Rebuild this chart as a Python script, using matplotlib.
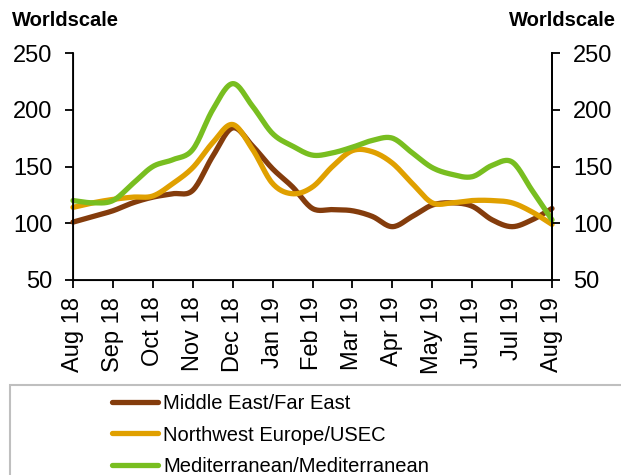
import matplotlib
matplotlib.use("Agg")
import matplotlib.pyplot as plt
import numpy as np
from matplotlib.patches import Rectangle

plt.rcParams['font.family'] = ['Liberation Sans', 'DejaVu Sans']

months = ["Aug 18", "Sep 18", "Oct 18", "Nov 18", "Dec 18", "Jan 19", "Feb 19",
          "Mar 19", "Apr 19", "May 19", "Jun 19", "Jul 19", "Aug 19"]

# values read every half month, Aug 18 .. Aug 19
me_fe = [101, 106, 111, 118, 123, 126, 129, 159, 184, 168, 148, 132, 113,
         112, 111, 106, 97, 106, 116, 118, 115, 103, 97, 103, 113]
nwe_usec = [114, 118, 121, 123, 124, 135, 149, 171, 187, 165, 135, 126, 132,
            150, 164, 163, 153, 135, 118, 118, 120, 120, 118, 110, 99]
med_med = [120, 118, 120, 135, 150, 156, 165, 200, 223, 203, 179, 168, 160,
           162, 167, 173, 175, 162, 149, 143, 141, 151, 154, 129, 103]

colors = ["#843C0C", "#E0A000", "#78BE20"]
names = ["Middle East/Far East", "Northwest Europe/USEC", "Mediterranean/Mediterranean"]


def smooth(x, y, n=16):
    # catmull-rom, roughly what excel does for smoothed lines
    x = np.asarray(x, float)
    y = np.asarray(y, float)
    px = np.concatenate([[2 * x[0] - x[1]], x, [2 * x[-1] - x[-2]]])
    py = np.concatenate([[2 * y[0] - y[1]], y, [2 * y[-1] - y[-2]]])
    t = np.linspace(0, 1, n, endpoint=False)
    xs, ys = [], []
    for i in range(1, len(px) - 2):
        for p, out in ((px, xs), (py, ys)):
            p0, p1, p2, p3 = p[i - 1], p[i], p[i + 1], p[i + 2]
            out.extend(0.5 * (2 * p1 + (-p0 + p2) * t + (2 * p0 - 5 * p1 + 4 * p2 - p3) * t ** 2
                              + (-p0 + 3 * p1 - 3 * p2 + p3) * t ** 3))
    xs.append(x[-1])
    ys.append(y[-1])
    return np.array(xs), np.array(ys)


x = np.arange(len(me_fe)) / 2.0

fig = plt.figure(figsize=(6.21, 4.75), dpi=100)
ax = fig.add_axes([73 / 621, 1 - 280 / 475, (552 - 73) / 621, (280 - 53) / 475])

lines = []
for vals, c, name in zip([me_fe, nwe_usec, med_med], colors, names):
    sx, sy = smooth(x, vals)
    ln, = ax.plot(sx, sy, color=c, lw=3.8, label=name, solid_capstyle='round', clip_on=False)
    lines.append(ln)

ax.set_xlim(0, len(months) - 1)
ax.set_ylim(50, 250)
ax.set_xticks(range(len(months)))
ax.set_xticklabels(months, rotation=90, fontsize=17)
ax.set_yticks([50, 100, 150, 200, 250])
ax.tick_params(axis='y', labelsize=17, direction='out', length=6, width=1.3, pad=9)
ax.tick_params(axis='x', direction='out', length=6, width=1.3, pad=6)
for s in ["left", "bottom", "right"]:
    ax.spines[s].set_linewidth(1.3)
ax.spines["top"].set_visible(False)

ax2 = ax.twinx()
ax2.set_ylim(50, 250)
ax2.set_yticks([50, 100, 150, 200, 250])
ax2.tick_params(axis='y', labelsize=17, direction='out', length=6, width=1.3, pad=9)
ax2.spines["top"].set_visible(False)
ax2.spines["right"].set_linewidth(1.3)

fig.text(12 / 621, 1 - 21 / 475, "Worldscale", fontsize=14.5, fontweight='bold', va='center', ha='left')
fig.text(616 / 621, 1 - 21 / 475, "Worldscale", fontsize=14.5, fontweight='bold', va='center', ha='right')

fig.patches.append(Rectangle((10 / 621, -0.05), 1.0, 0.05 + 1 - 385 / 475, transform=fig.transFigure,
                             fill=False, edgecolor="#BFBFBF", lw=1.5))
fig.legend(handles=lines, loc='upper left', bbox_to_anchor=(104 / 621, 1 - 386 / 475), frameon=False,
           fontsize=14.5, handlelength=2.3, handletextpad=0.25, labelspacing=0.62, borderaxespad=0)

fig.savefig("out.png", dpi=100)
